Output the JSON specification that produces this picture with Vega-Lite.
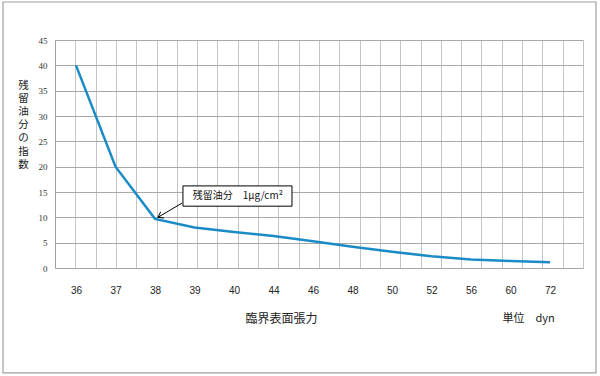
{
  "$schema": "https://vega.github.io/schema/vega-lite/v6.json",
  "width": 528,
  "height": 228,
  "autosize": "none",
  "padding": {"left": 55, "top": 40, "right": 17, "bottom": 108},
  "background": "white",
  "config": {
    "view": {"stroke": null},
    "axisY": {
      "grid": true, "gridColor": "#a8a8a8", "gridWidth": 1,
      "domain": true, "domainColor": "#a0a0a0", "ticks": false,
      "labelFont": "Liberation Serif", "labelFontSize": 9, "labelColor": "#333", "labelPadding": 8,
      "labelOverlap": false,
      "titleAngle": 0, "titleX": -32, "titleY": 40, "titleAlign": "center", "titleBaseline": "top",
      "titleLineHeight": 13.2,
      "titleFont": "Noto Sans CJK JP", "titleFontSize": 10.5, "titleFontWeight": "normal", "titleColor": "#222"
    }
  },
  "data": {"values": [
    {"tension": "36", "index": 40},
    {"tension": "37", "index": 20},
    {"tension": "38", "index": 9.7},
    {"tension": "39", "index": 8.0},
    {"tension": "40", "index": 7.1},
    {"tension": "44", "index": 6.3},
    {"tension": "46", "index": 5.3},
    {"tension": "48", "index": 4.2},
    {"tension": "50", "index": 3.2},
    {"tension": "52", "index": 2.3},
    {"tension": "56", "index": 1.7},
    {"tension": "60", "index": 1.4},
    {"tension": "72", "index": 1.15}
  ]},
  "layer": [
    {
      "data": {"values": [{}]},
      "mark": {"type": "rect", "fill": null, "stroke": "#a0a0a0", "strokeWidth": 1.2},
      "encoding": {
        "x": {"datum": -2.56, "type": "quantitative", "scale": {"domain": [0, 26], "nice": false}, "axis": null},
        "x2": {"datum": 26.64},
        "y": {"datum": 52.5, "type": "quantitative", "scale": {"domain": [0, 45], "nice": false},
              "axis": {"values": [0,5,10,15,20,25,30,35,40,45], "title": ["残","留","油","分","の","指","数"]}},
        "y2": {"datum": -20.7}
      }
    },
    {
      "data": {"values": [{}]},
      "mark": {"type": "rule", "opacity": 0},
      "encoding": {
        "x": {
          "datum": 0, "type": "quantitative",
          "scale": {"domain": [0, 26], "nice": false},
          "axis": {
            "orient": "bottom",
            "values": [0,1,2,3,4,5,6,7,8,9,10,11,12,13,14,15,16,17,18,19,20,21,22,23,24,25,26],
            "grid": true, "gridColor": "#c4c4c4", "gridWidth": 1,
            "labels": false, "ticks": false, "domain": false,
            "title": "単位　dyn",
            "titleX": 447, "titleY": 50, "titleAlign": "left", "titleBaseline": "middle",
            "titleFont": "Noto Sans CJK JP", "titleFontSize": 11, "titleFontWeight": "normal", "titleColor": "#222"
          }
        }
      }
    },
    {
      "mark": {"type": "line", "color": "#1a8bc6", "strokeWidth": 2.5},
      "encoding": {
        "x": {
          "field": "tension", "type": "ordinal", "sort": null,
          "scale": {"type": "point", "range": [21, 495], "padding": 0},
          "axis": {
            "orient": "bottom", "grid": false, "domain": false, "ticks": false,
            "labelAngle": 0, "labelFont": "Liberation Sans", "labelFontSize": 10, "labelColor": "#222",
            "labelPadding": 17, "labelOverlap": false,
            "title": "臨界表面張力",
            "titleX": 226, "titleY": 50, "titleAlign": "center", "titleBaseline": "middle",
            "titleFont": "Noto Sans CJK JP", "titleFontSize": 12, "titleFontWeight": "normal", "titleColor": "#222"
          }
        },
        "y": {
          "field": "index", "type": "quantitative",
          "scale": {"domain": [0, 45], "nice": false},
          "axis": {"values": [0,5,10,15,20,25,30,35,40,45], "title": ["残","留","油","分","の","指","数"]}
        }
      }
    },
    {
      "data": {"values": [{}]},
      "mark": {"type": "rule", "color": "black", "strokeWidth": 1},
      "encoding": {
        "x": {"datum": 6.25, "type": "quantitative", "scale": {"domain": [0, 26], "nice": false}, "axis": null},
        "x2": {"datum": 5.07},
        "y": {"datum": 12.8, "type": "quantitative", "scale": {"domain": [0, 45], "nice": false},
              "axis": {"values": [0,5,10,15,20,25,30,35,40,45], "title": ["残","留","油","分","の","指","数"]}},
        "y2": {"datum": 10.0}
      }
    },
    {
      "data": {"values": [{}]},
      "mark": {"type": "point", "shape": "M -0.7 1 L 0 0 L 0.7 1", "filled": false, "stroke": "black", "strokeWidth": 1, "size": 100, "angle": 241, "opacity": 1},
      "encoding": {
        "x": {"datum": 5.07, "type": "quantitative", "scale": {"domain": [0, 26], "nice": false}, "axis": null},
        "y": {"datum": 10.0, "type": "quantitative", "scale": {"domain": [0, 45], "nice": false},
              "axis": {"values": [0,5,10,15,20,25,30,35,40,45], "title": ["残","留","油","分","の","指","数"]}}
      }
    },
    {
      "data": {"values": [{}]},
      "mark": {"type": "rect", "fill": "white", "stroke": "black", "strokeWidth": 1},
      "encoding": {
        "x": {"datum": 6.3, "type": "quantitative", "scale": {"domain": [0, 26], "nice": false}, "axis": null},
        "x2": {"datum": 11.67},
        "y": {"datum": 16.2, "type": "quantitative", "scale": {"domain": [0, 45], "nice": false},
              "axis": {"values": [0,5,10,15,20,25,30,35,40,45], "title": ["残","留","油","分","の","指","数"]}},
        "y2": {"datum": 12.2}
      }
    },
    {
      "data": {"values": [{"label": "残留油分　1μg/cm²"}]},
      "mark": {"type": "text", "font": "Noto Sans CJK JP", "fontSize": 10, "color": "#111", "align": "center", "baseline": "middle"},
      "encoding": {
        "text": {"field": "label"},
        "x": {"datum": 9.0, "type": "quantitative", "scale": {"domain": [0, 26], "nice": false}, "axis": null},
        "y": {"datum": 14.2, "type": "quantitative", "scale": {"domain": [0, 45], "nice": false},
              "axis": {"values": [0,5,10,15,20,25,30,35,40,45], "title": ["残","留","油","分","の","指","数"]}}
      }
    }
  ],
  "resolve": {"scale": {"x": "independent"}, "axis": {"x": "independent"}}
}
